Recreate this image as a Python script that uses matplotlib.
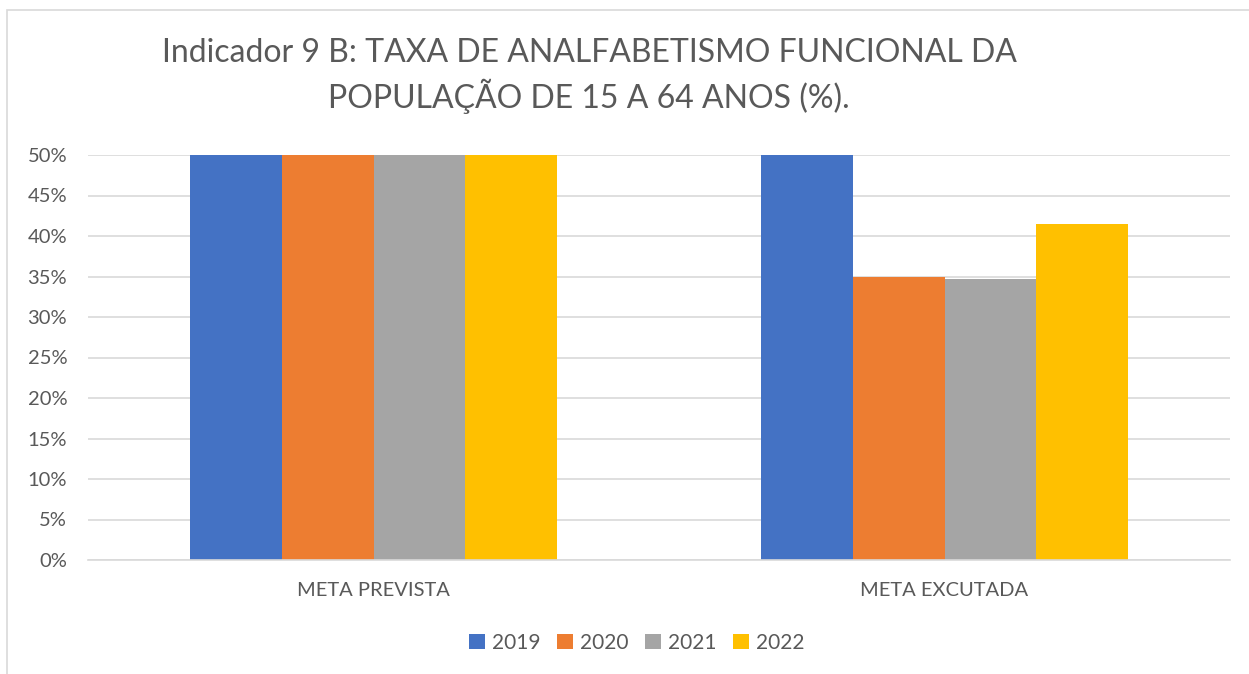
import matplotlib
matplotlib.use("Agg")
import matplotlib.pyplot as plt
import numpy as np
from matplotlib.patches import Rectangle, Patch

categories = ["META PREVISTA", "META EXCUTADA"]
years = ["2019", "2020", "2021", "2022"]
# percent values per year, one entry per category
values = {
    "2019": [50.0, 50.0],
    "2020": [50.0, 34.9],
    "2021": [50.0, 34.7],
    "2022": [50.0, 41.5],
}
colors = ["#4472C4", "#ED7D31", "#A5A5A5", "#FFC000"]
yticks = [0, 5, 10, 15, 20, 25, 30, 35, 40, 45, 50]

plt.rcParams["font.family"] = ["Lato", "DejaVu Sans"]
text_col = "#595959"
grid_col = "#D9D9D9"

fig = plt.figure(figsize=(12.49, 6.74), dpi=100)
fig.patches.append(Rectangle((7 / 1249, -0.1), 1.2, 1.1 - 10 / 674,
                             transform=fig.transFigure, fill=False,
                             edgecolor=grid_col, linewidth=1.2))
ax = fig.add_axes([88 / 1249, 1 - 560 / 674, (1230 - 88) / 1249, 405 / 674])

x = np.arange(len(categories))
bw = 0.161
for i, (yr, c) in enumerate(zip(years, colors)):
    ax.bar(x + (i - 1.5) * bw, values[yr], width=bw, color=c, label=yr,
           zorder=3)

ax.set_xlim(-0.5, 1.5)
ax.set_ylim(0, 50)
ax.set_yticks(yticks)
ax.set_yticklabels([f"{v}%" for v in yticks])
ax.set_xticks(x)
ax.set_xticklabels(categories)
ax.grid(axis="y", color=grid_col, linewidth=1.2, zorder=0)
for s in ["top", "right", "left"]:
    ax.spines[s].set_visible(False)
ax.spines["bottom"].set_color(grid_col)
ax.spines["bottom"].set_linewidth(1.2)
ax.spines["bottom"].set_zorder(4)
ax.tick_params(axis="both", length=0, colors=text_col, labelsize=14.5)
ax.tick_params(axis="y", pad=15)
ax.tick_params(axis="x", pad=16)

fig.text(589 / 1249, 1 - 76 / 674,
         "Indicador 9 B: TAXA DE ANALFABETISMO FUNCIONAL DA\n"
         "POPULAÇÃO DE 15 A 64 ANOS (%).",
         ha="center", va="center", fontsize=23, color=text_col,
         linespacing=1.35)

handles = [Patch(facecolor=c, label=y) for y, c in zip(years, colors)]
fig.legend(handles=handles, loc="center", bbox_to_anchor=(637 / 1249, 1 - 643 / 674),
           ncol=4, frameon=False, fontsize=15, handlelength=0.75,
           handleheight=0.75, handletextpad=0.35, columnspacing=0.8,
           labelcolor=text_col)

fig.savefig("out.png", dpi=100)
